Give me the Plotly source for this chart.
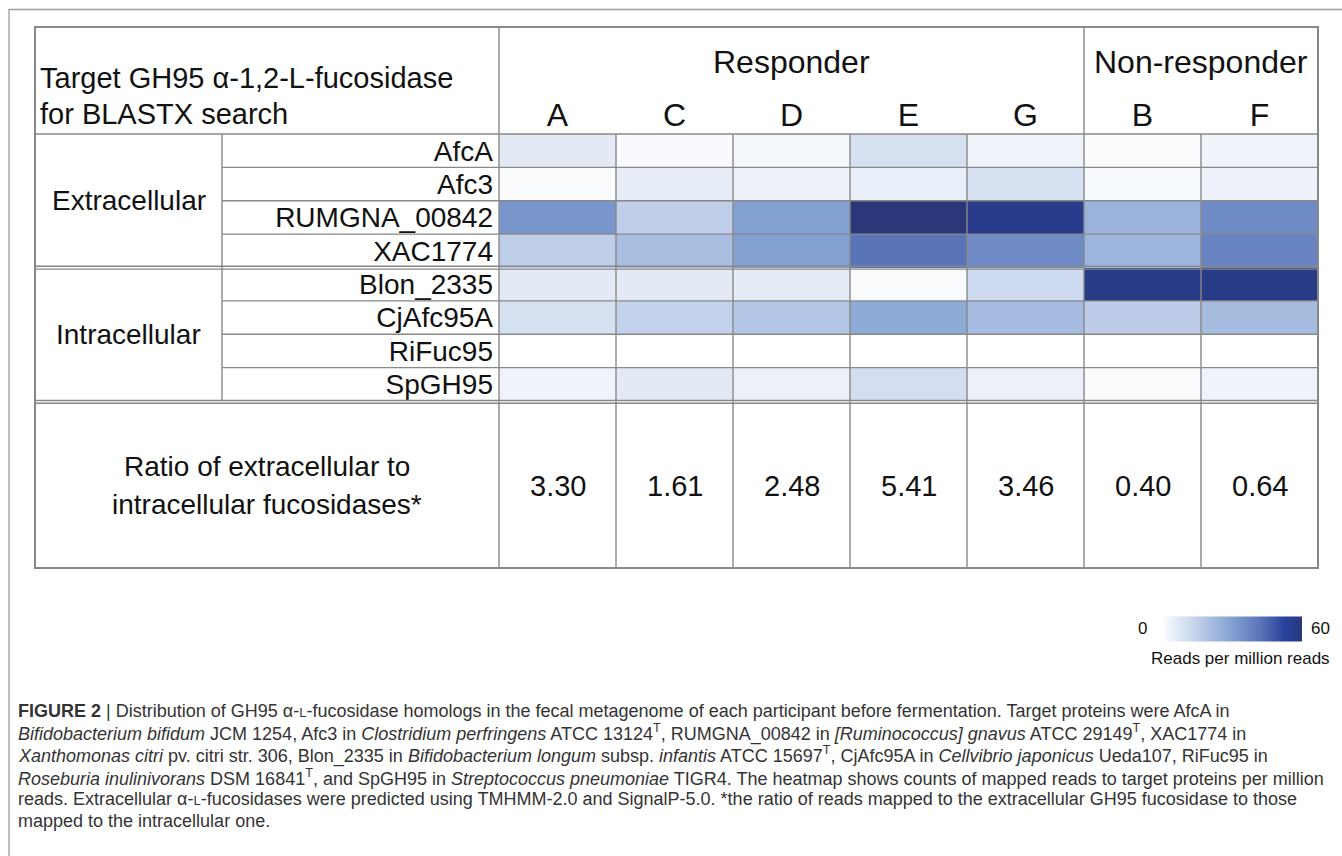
import plotly.graph_objects as go

# ---------------- data ----------------
participants = ["A", "C", "D", "E", "G", "B", "F"]
participant_groups = ["Responder", "Non-responder"]
group_sizes = [5, 2]
proteins = ["AfcA", "Afc3", "RUMGNA_00842", "XAC1774",
            "Blon_2335", "CjAfc95A", "RiFuc95", "SpGH95"]
locations = ["Extracellular", "Intracellular"]
location_sizes = [4, 4]

# reads per million reads (rows = proteins, columns = participants A C D E G B F)
afca = [6, 1.2, 2, 9.5, 3, 1, 3]
afc3 = [1, 5, 4, 4.5, 9.5, 1.5, 3.5]
rumgna_00842 = [33, 15, 30, 60, 56, 24, 36]
xac1774 = [15, 20.5, 30, 42, 36, 23, 38]
blon_2335 = [6, 6, 5.5, 1, 11.5, 57, 57]
cjafc95a = [9.5, 14, 18, 27, 21.5, 15.5, 21]
rifuc95 = [0, 0, 0, 0, 0, 0, 0]
spgh95 = [3, 6, 4, 10, 4, 1, 3]
z_values = [afca, afc3, rumgna_00842, xac1774, blon_2335, cjafc95a, rifuc95, spgh95]

ratios = [3.30, 1.61, 2.48, 5.41, 3.46, 0.40, 0.64]
ratio_labels = [f"{r:.2f}" for r in ratios]
zmin, zmax = 0, 60

header_lines = ["Target GH95 \u03b1-1,2-L-fucosidase", "for BLASTX search"]
ratio_title_lines = ["Ratio of extracellular to", "intracellular fucosidases*"]
colorbar_title = "Reads per million reads"

SC = "<span style='font-size:13px'>L</span>"
caption_lines = [
    "<b>FIGURE 2</b> | Distribution of GH95 \u03b1-" + SC + "-fucosidase homologs in the fecal metagenome of each participant before fermentation. Target proteins were AfcA in",
    "<i>Bifidobacterium bifidum</i> JCM 1254, Afc3 in <i>Clostridium perfringens</i> ATCC 13124<sup>T</sup>, RUMGNA_00842 in <i>[Ruminococcus] gnavus</i> ATCC 29149<sup>T</sup>, XAC1774 in",
    "<i>Xanthomonas citri</i> pv. citri str. 306, Blon_2335 in <i>Bifidobacterium longum</i> subsp. <i>infantis</i> ATCC 15697<sup>T</sup>, CjAfc95A in <i>Cellvibrio japonicus</i> Ueda107, RiFuc95 in",
    "<i>Roseburia inulinivorans</i> DSM 16841<sup>T</sup>, and SpGH95 in <i>Streptococcus pneumoniae</i> TIGR4. The heatmap shows counts of mapped reads to target proteins per million",
    "reads. Extracellular \u03b1-" + SC + "-fucosidases were predicted using TMHMM-2.0 and SignalP-5.0. *the ratio of reads mapped to the extracellular GH95 fucosidase to those",
    "mapped to the intracellular one.",
]

colorscale = [
    [0.0, "#ffffff"], [0.04, "#f1f5fb"], [0.25, "#bfcfea"], [0.5, "#82a1d2"],
    [0.7, "#5a74b8"], [0.88, "#26409a"], [1.0, "#2a3879"],
]

# ---------------- layout constants (pixels) ----------------
W, H = 1342, 856
FRAME_L, FRAME_T = 9, 9.5
TL, C1, C2, TR = 35, 222, 499, 1318
TT, HB, RB, TB = 27, 134, 401, 568
LINE = "#888888"
FONT = "Arial, Liberation Sans, sans-serif"

ncol = len(participants)
nrow = len(proteins)
cw = (TR - C2) / ncol
rh = (RB - HB) / nrow

fig = go.Figure()
fig.add_trace(go.Heatmap(
    z=z_values, x=participants, y=proteins,
    zmin=zmin, zmax=zmax, colorscale=colorscale,
    xaxis="x2", yaxis="y2", hoverinfo="skip",
    colorbar=dict(
        orientation="h", lenmode="pixels", len=139, thickness=25,
        x=1232.5 / W, xanchor="center", y=1 - 628.5 / H, yanchor="middle",
        xpad=0, ypad=0, outlinewidth=0, showticklabels=False, ticks="",
    ),
))

shapes = []
def hline(y, x0, x1, w=1.4):
    shapes.append(dict(type="line", xref="x", yref="y", x0=x0, x1=x1, y0=y, y1=y,
                       line=dict(color=LINE, width=w)))
def vline(x, y0, y1, w=1.4):
    shapes.append(dict(type="line", xref="x", yref="y", x0=x, x1=x, y0=y0, y1=y1,
                       line=dict(color=LINE, width=w)))

# outer figure frame
shapes.append(dict(type="rect", xref="x", yref="y", x0=FRAME_L, y0=FRAME_T, x1=W + 10, y1=H + 10,
                   line=dict(color="#9c9c9c", width=1.3)))
# header bottom
hline(HB, TL, TR, 1.6)
# row lines
for i in range(1, nrow):
    y = HB + i * rh
    if i == location_sizes[0]:
        hline(y - 1.2, TL, TR)
        hline(y + 1.6, TL, TR)
    else:
        hline(y, C1, TR)
# bottom of heat rows (double)
hline(RB - 0.5, TL, TR)
hline(RB + 2.3, TL, TR)
# verticals
vline(C1, HB, RB)
vline(C2, TT, TB)
edge = 0
for gi, gs in enumerate(group_sizes):
    for j in range(1, gs + 1):
        idx = edge + j
        if idx >= ncol:
            break
        x = C2 + idx * cw
        vline(x, TT if j == gs else HB, TB)
    edge += gs
# table border
shapes.append(dict(type="rect", xref="x", yref="y", x0=TL, y0=TT, x1=TR, y1=TB,
                   line=dict(color=LINE, width=2)))

ann = []
def text(x, y, t, size, xanchor="center", color="#111111", xref="x", family=FONT):
    ann.append(dict(x=x, y=y, xref=xref, yref="y", text=t, showarrow=False,
                    xanchor=xanchor, yanchor="middle",
                    font=dict(size=size, color=color, family=family)))

# header
text(38, 78, header_lines[0], 29, "left")
text(38, 114, header_lines[1], 29, "left")
edge = 0
for g, gs in zip(participant_groups, group_sizes):
    cx = C2 + (edge + gs / 2) * cw
    text(cx, 62, g, 32)
    edge += gs
# location labels
edge = 0
for loc, ls in zip(locations, location_sizes):
    cy = HB + (edge + ls / 2) * rh
    text((TL + C1) / 2, cy, loc, 28)
    edge += ls
# ratio row
text((TL + C2) / 2, 466, ratio_title_lines[0], 28)
text((TL + C2) / 2, 504, ratio_title_lines[1], 28)
for p, lab in zip(participants, ratio_labels):
    text(p, 486, lab, 29, xref="x2")
# colorbar labels
text(1142, 628, str(zmin), 17)
text(1320, 628, str(zmax), 17)
text(1240, 658, colorbar_title, 17)
# caption
cap_y = [711, 733, 755, 777, 799, 821]
for y, line in zip(cap_y, caption_lines):
    text(16, y, line, 18, "left", color="#333333")

fig.update_layout(
    width=W, height=H, margin=dict(l=0, r=0, t=0, b=0),
    paper_bgcolor="white", plot_bgcolor="rgba(0,0,0,0)",
    showlegend=False, shapes=shapes, annotations=ann,
    xaxis=dict(range=[0, W], domain=[0, 1], visible=False, fixedrange=True),
    yaxis=dict(range=[H, 0], domain=[0, 1], visible=False, fixedrange=True),
    xaxis2=dict(domain=[C2 / W, TR / W], anchor="y2", side="top", type="category",
                categoryorder="array", categoryarray=participants,
                tickmode="array", tickvals=participants, ticktext=participants,
                showgrid=False, zeroline=False, showline=False, ticks="",
                tickfont=dict(size=32, family=FONT, color="#111111"),
                ticklabelstandoff=1, fixedrange=True),
    yaxis2=dict(domain=[1 - RB / H, 1 - HB / H], anchor="x2", type="category",
                categoryorder="array", categoryarray=proteins, autorange="reversed",
                tickmode="array", tickvals=proteins, ticktext=proteins,
                showgrid=False, zeroline=False, showline=False, ticks="",
                tickfont=dict(size=28, family=FONT, color="#111111"),
                ticklabelstandoff=5, fixedrange=True),
)

fig.write_html("out.html", config={"displayModeBar": False},
               post_script="document.body.style.margin='0';document.body.style.overflow='hidden';")
